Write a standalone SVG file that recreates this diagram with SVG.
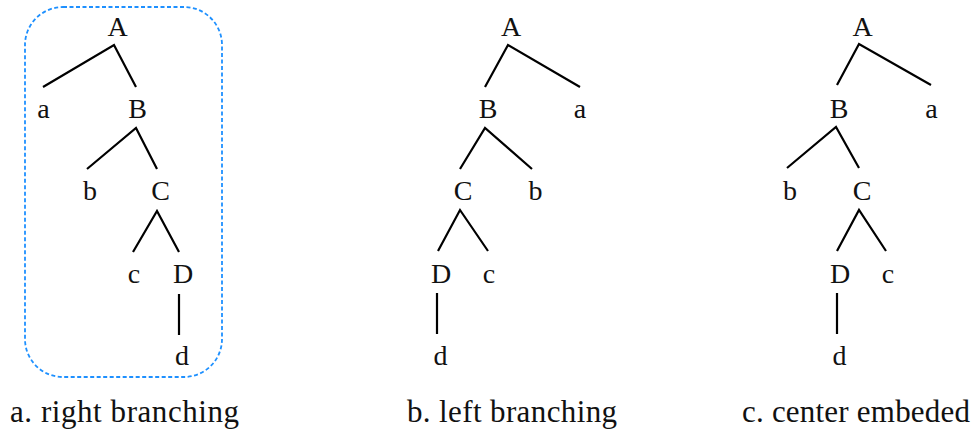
<svg xmlns="http://www.w3.org/2000/svg" width="977" height="429" viewBox="0 0 977 429">
  <style>
    .lbl { font-family: 'Liberation Serif', 'DejaVu Serif', serif; font-size: 28px; fill: #111; text-anchor: middle; }
    .cap { font-family: 'Liberation Serif', 'DejaVu Serif', serif; font-size: 31px; fill: #111; }
    .edge { stroke: #000; stroke-width: 2.2; fill: none; stroke-linecap: butt; }
    .box { fill: none; stroke: #1E90FF; stroke-width: 1.8; stroke-dasharray: 4 2.5; }
  </style>
  <rect width="977" height="429" fill="#fff"/>

  <!-- highlight frame around the right-branching tree -->
  <rect id="frame" class="box" x="25" y="7" width="197" height="370" rx="38" ry="38"/>

  <!-- tree edges -->
  <g id="connectors">
    <!-- a. right branching -->
    <path class="edge" d="M43,87 L114,45 L136,87"/>
    <path class="edge" d="M87,169 L136,128 L157,169"/>
    <path class="edge" d="M133,252 L157,211 L179,252"/>
    <path class="edge" d="M179,294 L179,335"/>
    <!-- b. left branching -->
    <path class="edge" d="M485,87 L508,45 L580,87"/>
    <path class="edge" d="M460,169 L485,128 L532,169"/>
    <path class="edge" d="M438,251 L460,210 L488,251"/>
    <path class="edge" d="M437,293 L437,334"/>
    <!-- c. center embedded -->
    <path class="edge" d="M837,85 L859,44 L931,85"/>
    <path class="edge" d="M787,168 L836,127 L859,168"/>
    <path class="edge" d="M837,251 L859,210 L886,251"/>
    <path class="edge" d="M837,293 L837,334"/>
  </g>

  <!-- tree a -->
  <g id="treeA-A"><text class="lbl" x="117.5" y="35.5">A</text></g>
  <g id="treeA-a"><text class="lbl" x="43.5" y="117.5">a</text></g>
  <g id="treeA-B"><text class="lbl" x="137.5" y="117.5">B</text></g>
  <g id="treeA-b"><text class="lbl" x="90" y="200">b</text></g>
  <g id="treeA-C"><text class="lbl" x="160.5" y="200">C</text></g>
  <g id="treeA-c"><text class="lbl" x="134" y="283">c</text></g>
  <g id="treeA-D"><text class="lbl" x="183" y="283">D</text></g>
  <g id="treeA-d"><text class="lbl" x="182" y="365">d</text></g>

  <!-- tree b -->
  <g id="treeB-A"><text class="lbl" x="511" y="35.5">A</text></g>
  <g id="treeB-B"><text class="lbl" x="488" y="117.5">B</text></g>
  <g id="treeB-a"><text class="lbl" x="580" y="117.5">a</text></g>
  <g id="treeB-C"><text class="lbl" x="463" y="200">C</text></g>
  <g id="treeB-b"><text class="lbl" x="535.5" y="200">b</text></g>
  <g id="treeB-D"><text class="lbl" x="441" y="283">D</text></g>
  <g id="treeB-c"><text class="lbl" x="489" y="283">c</text></g>
  <g id="treeB-d"><text class="lbl" x="440.5" y="365">d</text></g>

  <!-- tree c -->
  <g id="treeC-A"><text class="lbl" x="862.5" y="35.5">A</text></g>
  <g id="treeC-B"><text class="lbl" x="839" y="117.5">B</text></g>
  <g id="treeC-a"><text class="lbl" x="931.5" y="117.5">a</text></g>
  <g id="treeC-b"><text class="lbl" x="790" y="200">b</text></g>
  <g id="treeC-C"><text class="lbl" x="862" y="200">C</text></g>
  <g id="treeC-D"><text class="lbl" x="840" y="283">D</text></g>
  <g id="treeC-c"><text class="lbl" x="888" y="283">c</text></g>
  <g id="treeC-d"><text class="lbl" x="839.5" y="365">d</text></g>

  <!-- captions -->
  <g id="captions">
    <text class="cap" x="10" y="422" textLength="229" lengthAdjust="spacing">a. right branching</text>
    <text class="cap" x="407" y="422" textLength="210" lengthAdjust="spacing">b. left branching</text>
    <text class="cap" x="742" y="422" textLength="228" lengthAdjust="spacing">c. center embeded</text>
  </g>
</svg>
